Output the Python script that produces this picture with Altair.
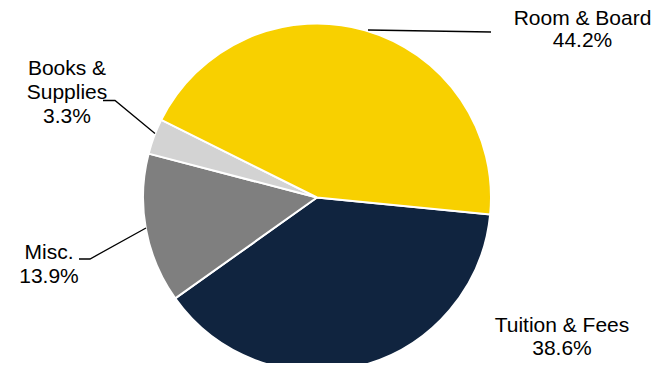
import altair as alt
import pandas as pd
import math

# Data
categories = ["Tuition & Fees", "Misc.", "Books & Supplies", "Room & Board"]
shares = [38.6, 13.9, 3.3, 44.2]
slice_order = [1, 2, 3, 4]
colors = ["#10243F", "#7F7F7F", "#D3D3D3", "#F8D000"]

# Label text lines (one row per line)
label_lines = ["Room & Board", "44.2%", "Books &", "Supplies", "3.3%",
               "Misc.", "13.9%", "Tuition & Fees", "38.6%"]

OFF = 8  # page margin
label_x = [582.5, 582.5, 67, 67, 67, 49, 49, 562, 562]
label_y = [25, 47, 75, 98.5, 123, 259, 283, 332, 355]

leader_group = ["rb", "rb", "bk", "bk", "bk", "mi", "mi", "mi"]
leader_x = [368, 491, 155, 115, 103, 146, 90, 79]
leader_y = [30, 32, 133.5, 100.5, 100.5, 228, 259, 259]

pie = pd.DataFrame({"cat": categories, "share": shares, "ord": slice_order})
labels = pd.DataFrame({"t": label_lines,
                       "x": [v - OFF for v in label_x],
                       "y": [v - OFF for v in label_y]})
leaders = pd.DataFrame({"g": leader_group,
                        "x": [v - OFF for v in leader_x],
                        "y": [v - OFF for v in leader_y],
                        "i": list(range(len(leader_x)))})

start = math.radians(95.6)
cx, cy, r = 317 - OFF, 197.5 - OFF, 174

arcs = alt.Chart(pie).mark_arc(
    radius=r, stroke="white", strokeWidth=2
).encode(
    theta=alt.Theta("share:Q", stack=True,
                    scale=alt.Scale(range=[start, start + 2 * math.pi])),
    order=alt.Order("ord:Q"),
    color=alt.Color("cat:N", scale=alt.Scale(domain=categories, range=colors), legend=None),
    x=alt.value(cx),
    y=alt.value(cy),
)

lines = alt.Chart(leaders).mark_line(color="black", strokeWidth=1.3).encode(
    x=alt.X("x:Q", scale=None),
    y=alt.Y("y:Q", scale=None),
    detail="g:N",
    order="i:Q",
)

texts = alt.Chart(labels).mark_text(
    font="Liberation Sans", fontSize=21, color="black",
    align="center", baseline="alphabetic"
).encode(
    x=alt.X("x:Q", scale=None),
    y=alt.Y("y:Q", scale=None),
    text="t:N",
)

chart = alt.layer(arcs, lines, texts).properties(
    width=649, height=355,
    autosize=alt.AutoSizeParams(type="none"),
    padding=0,
).configure_view(stroke=None)

chart.save("out.html", embed_options={"renderer": "svg", "actions": False})
